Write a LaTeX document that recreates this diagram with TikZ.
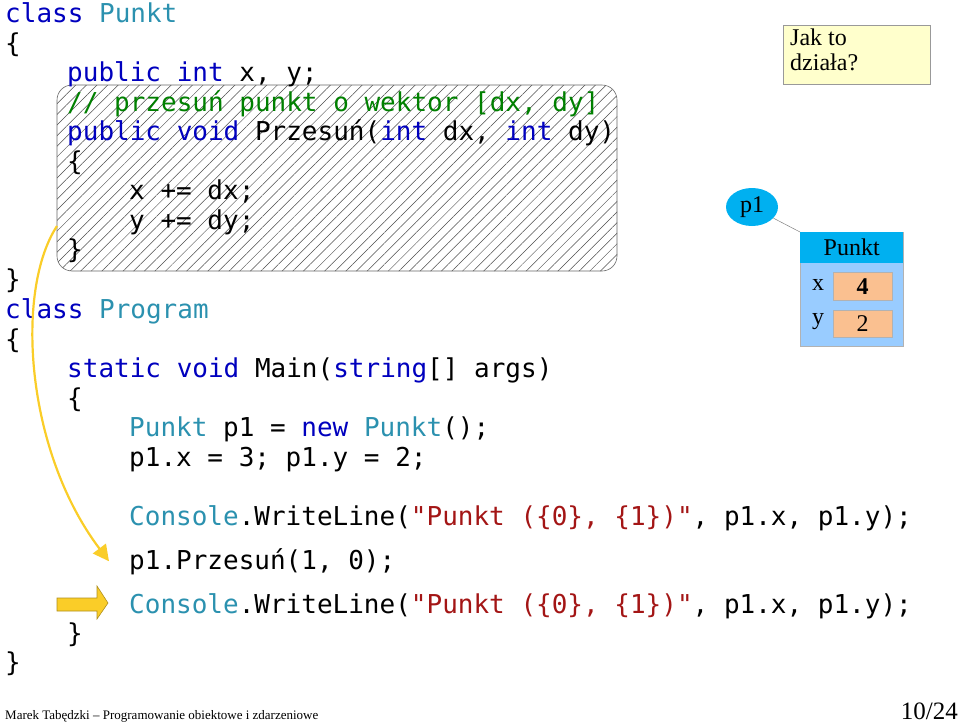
\documentclass[tikz,border=0pt]{standalone}
\usepackage{fontspec}
\setmainfont{Liberation Serif}
\newfontfamily\codefont{DejaVu Sans Mono}
\usetikzlibrary{patterns.meta,arrows.meta,shapes.geometric}
\definecolor{kw}{RGB}{0,0,190}
\definecolor{ty}{RGB}{43,145,175}
\definecolor{st}{RGB}{163,21,21}
\definecolor{cm}{RGB}{0,128,0}
\definecolor{ylw}{RGB}{250,205,40}
\definecolor{note}{RGB}{255,255,204}
\definecolor{hdr}{RGB}{0,176,240}
\definecolor{body}{RGB}{153,204,255}
\definecolor{fld}{RGB}{250,192,144}
\newcommand{\K}[1]{\textcolor{kw}{#1}}
\newcommand{\T}[1]{\textcolor{ty}{#1}}
\newcommand{\Sg}[1]{\textcolor{st}{#1}}
\begin{document}
\begin{tikzpicture}[x=1pt,y=-1pt,
  code/.style={anchor=base west,inner sep=0pt,font=\codefont\fontsize{26}{30}\selectfont},
  ser/.style={font=\fontsize{24}{26}\selectfont,inner sep=0pt}]
\useasboundingbox (0,0) rectangle (960,723);
% hatched block
\path[pattern={Lines[angle=45,distance=7.5pt,line width=0.5pt]},pattern color=black!70]
  (57,85) [rounded corners=15] rectangle (617,271);
\draw[black!60,line width=0.6pt,rounded corners=15] (57,85) rectangle (617,271);
% code lines
\node[code] (l1) at (5,22) {\K{class} \T{Punkt}};
\node[code] (l2) at (5,52) {\{};
\node[code] (l3) at (67,81) {\K{public} \K{int} x, y;};
\node[code] (l4) at (67,111) {\textcolor{cm}{// przesuń punkt o wektor [dx, dy]}};
\node[code] (l5) at (67,140) {\K{public} \K{void} Przesuń(\K{int} dx, \K{int} dy)};
\node[code] (l6) at (67,170) {\{};
\node[code] (l7) at (129,199) {x += dx;};
\node[code] (l8) at (129,229) {y += dy;};
\node[code] (l9) at (67,258) {\}};
\node[code] (l10) at (5,288) {\}};
\node[code] (l11) at (5,318) {\K{class} \T{Program}};
\node[code] (l12) at (5,348) {\{};
\node[code] (l13) at (67,377) {\K{static} \K{void} Main(\K{string}[] args)};
\node[code] (l14) at (67,407) {\{};
\node[code] (l15) at (129,436) {\T{Punkt} p1 = \K{new} \T{Punkt}();};
\node[code] (l16) at (129,466) {p1.x = 3; p1.y = 2;};
\node[code] (l17) at (129,525) {\T{Console}.WriteLine(\Sg{"Punkt (\{0\}, \{1\})"}, p1.x, p1.y);};
\node[code] (l18) at (129,569) {p1.Przesuń(1, 0);};
\node[code] (l19) at (129,613) {\T{Console}.WriteLine(\Sg{"Punkt (\{0\}, \{1\})"}, p1.x, p1.y);};
\node[code] (l20) at (67,642) {\}};
\node[code] (l21) at (5,671) {\}};
% yellow curved arrow
\coordinate (cs) at (57,226);
\draw[ylw,line width=2.2pt,-{Triangle[length=16pt,width=16pt]}]
  (cs) .. controls (15,290) and (25,450) .. ([xshift=-20pt]l18.west);
% fat arrow
\draw[fill=ylw,draw=ylw!70!black,line width=0.6pt]
  (57,598) -- (97,598) -- (97,586) -- (108,603) -- (97,619) -- (97,611) -- (57,611) -- cycle;
% note
\node[draw=black!40,fill=note,minimum width=147,minimum height=59,anchor=north west,inner sep=0pt] (note) at (783,25) {};
\node[anchor=north west,align=left,inner sep=0pt,font=\fontsize{24}{25}\selectfont] (notet) at (790,29) {Jak to\\działa?};
% object diagram
\node[ellipse,fill=hdr,minimum width=52,minimum height=38,inner sep=0pt,ser] (p1) at (752,207) {p1};
\node[fill=body,draw=black!30,minimum width=103,minimum height=114,anchor=north west,inner sep=0pt] (obj) at (800,232) {};
\node[fill=hdr,minimum width=103,minimum height=31,anchor=north west,inner sep=0pt,ser] (hdr) at (800,232) {Punkt};
\draw[black!50,line width=0.5pt] (p1) -- (obj.north west);
\node[fill=fld,draw=black!30,minimum width=59,minimum height=28,anchor=north west,inner sep=0pt,ser] (fx) at (833,272) {\textbf{4}};
\node[fill=fld,draw=black!30,minimum width=59,minimum height=27,anchor=north west,inner sep=0pt,ser] (fy) at (833,310) {2};
\node[ser] (lx) at (818,285) {x};
\node[ser] (ly) at (818,322) {y};
% footer
\node[anchor=base west,inner sep=0pt,font=\fontsize{13}{15}\selectfont] (foot) at (5,719) {Marek Tabędzki -- Programowanie obiektowe i zdarzeniowe};
\node[anchor=base east,inner sep=0pt,font=\fontsize{25}{27}\selectfont] (pg) at (958,719) {10/24};
\end{tikzpicture}
\end{document}
